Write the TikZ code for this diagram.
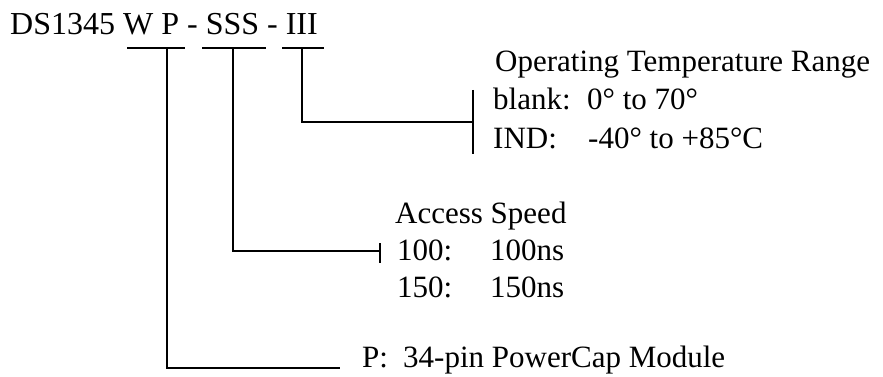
\documentclass[tikz,border=0pt]{standalone}
\usepackage{fontspec}
\setmainfont{Liberation Serif}
\begin{document}
\begin{tikzpicture}[x=1pt,y=-1pt,
  lbl/.style={anchor=base west,inner sep=0pt,font=\fontsize{31}{37}\selectfont},
  ttl/.style={anchor=base west,inner sep=0pt,font=\fontsize{32}{38}\selectfont},
  ln/.style={line width=1.6pt}]
\useasboundingbox (0,0) rectangle (883,377);
% title
\node[ttl] (title) at (10,35) {DS1345 W P - SSS - III};
% bars under the fields
\coordinate (b1l) at (127,48); \coordinate (b1r) at (185,48);
\coordinate (b2l) at (202,48); \coordinate (b2r) at (266,48);
\coordinate (b3l) at (282,48); \coordinate (b3r) at (324,48);
\draw[ln] (b1l) -- (b1r);
\draw[ln] (b2l) -- (b2r);
\draw[ln] (b3l) -- (b3r);
\coordinate (t1) at (167,48);
\coordinate (t2) at (233,48);
\coordinate (t3) at (302,48);
% temperature block
\node[lbl] (temph) at (495,72) {Operating Temperature Range};
\node[lbl] (blank) at (493,110) {blank:};
\node[lbl] (blankv) at (587,110) {0° to 70°};
\node[lbl] (ind) at (493,148) {IND:};
\node[lbl] (indv) at (588,148) {-40° to +85°C};
\coordinate (k3top) at (473,90); \coordinate (k3bot) at (473,154);
\coordinate (k3) at (473,122);
\coordinate (e3) at (302,122);
\draw[ln] (k3top) -- (k3bot);
\draw[ln] (t3) -- (e3) -- (k3);
% access speed block
\node[lbl] (acch) at (395,223) {Access Speed};
\node[lbl] (s100) at (397,260) {100:};
\node[lbl] (s100v) at (490,260) {100ns};
\node[lbl] (s150) at (397,297) {150:};
\node[lbl] (s150v) at (490,297) {150ns};
\coordinate (k2top) at (380,243); \coordinate (k2bot) at (380,263);
\coordinate (k2) at (380,251);
\coordinate (e2) at (233,251);
\draw[ln] (k2top) -- (k2bot);
\draw[ln] (t2) -- (e2) -- (k2);
% package block
\node[lbl] (pk) at (362,367) {P:};
\node[lbl] (pkv) at (403,367) {34-pin PowerCap Module};
\coordinate (e1) at (167,368);
\coordinate (k1) at (340,368);
\draw[ln] (t1) -- (e1) -- (k1);
\end{tikzpicture}
\end{document}
